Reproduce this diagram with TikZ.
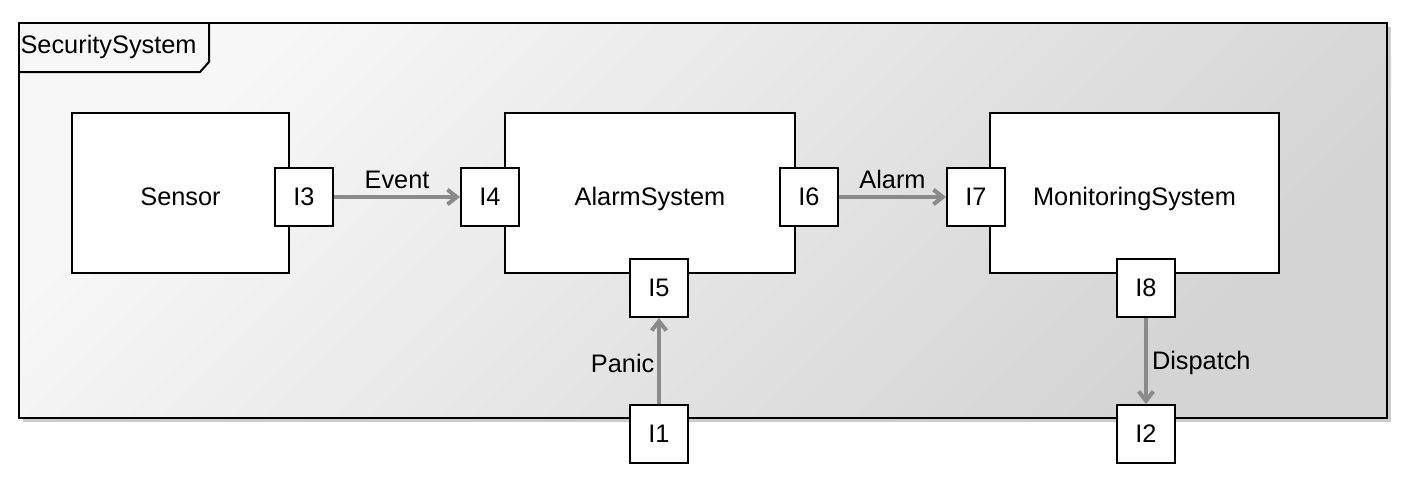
\documentclass[tikz,border=0pt]{standalone}
\usepackage{fontspec}
\setmainfont{Liberation Sans}
\usetikzlibrary{arrows.meta}

\begin{document}
\begin{tikzpicture}[x=0.75pt,y=-0.75pt,
    every node/.style={font=\fontsize{19}{23}\selectfont},
    block/.style={draw=black,line width=1.5pt,fill=white,minimum height=120pt,inner sep=0pt,text height=22pt,text depth=4pt},
    port/.style={draw=black,line width=1.5pt,fill=white,minimum size=43.5pt,inner sep=0pt},
    flow/.style={draw=black!46,line width=3pt,-{Straight Barb[length=7pt,width=11pt]}}]
      \useasboundingbox (0,0) rectangle (1422,482);
      \fill[black!20] (23,27) rectangle (1391,422);
      \shade[top color=black!3,bottom color=black!17,shading angle=45] (19,23) rectangle (1387,418);
      \draw[line width=2pt] (19,23) rectangle (1387,418);
      \node[anchor=west,inner sep=1pt] (title) at (19,47) {SecuritySystem};
      \draw[line width=1.5pt] (19,72) -- (200,72) -- (209,62) -- (209,23);
      \node[block,minimum width=162.75pt] (sensor) at (180.5,193) {Sensor};
      \node[block,minimum width=217.5pt] (alarmsys) at (650,193) {AlarmSystem};
      \node[block,minimum width=216.75pt] (monitor) at (1134.5,193) {MonitoringSystem};
      \node[port] (i3) at (304,197) {I3};
      \node[port] (i4) at (490,197) {I4};
      \node[port] (i6) at (809,197) {I6};
      \node[port] (i7) at (976,197) {I7};
      \node[port] (i5) at (659,288) {I5};
      \node[port] (i8) at (1146,288) {I8};
      \node[port] (i1) at (659,434) {I1};
      \node[port] (i2) at (1146,434) {I2};
      \draw[flow] (i3) -- node[above,inner sep=5pt] {Event} (i4);
      \draw[flow] (i6) -- node[above,inner sep=5pt] {Alarm} (i7);
      \draw[flow] (i1) -- node[left,inner sep=2pt,yshift=-1.5pt] {Panic} (i5);
      \draw[flow] (i8) -- node[right,inner sep=3pt,yshift=-1.5pt] {Dispatch} (i2);
    \end{tikzpicture}
\end{document}
